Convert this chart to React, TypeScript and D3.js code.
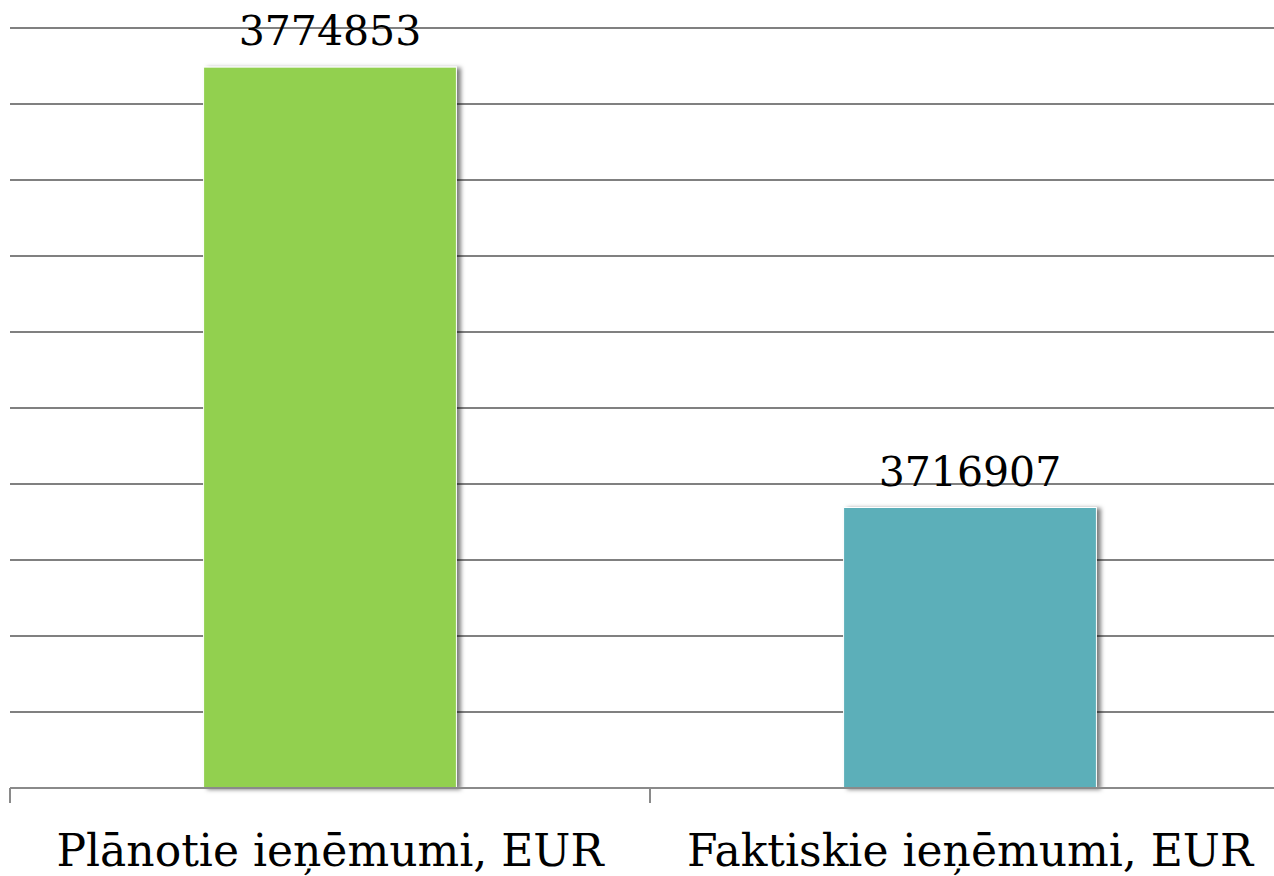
import React, { useEffect, useRef } from "react"
import * as d3 from "d3"

const categories = ["Plānotie ieņēmumi, EUR", "Faktiskie ieņēmumi, EUR"]
const values = [3774853, 3716907]
const barColors = ["#92D050", "#5BAFB9"]
const yDomain = [3680000, 3780000]
const yTickStep = 10000

const width = 1274
const height = 876

export default function App() {
    const ref = useRef<SVGSVGElement>(null)

    useEffect(() => {
        const svg = d3.select(ref.current)
        svg.selectAll("*").remove()

        const left = 10
        const right = 1290
        const top = 28
        const bottom = 788

        const xScale = d3
            .scaleBand<string>()
            .domain(categories)
            .range([left, right])
            .paddingInner(0.605)
            .paddingOuter(0.3025)

        const yScale = d3
            .scaleLinear()
            .domain(yDomain)
            .range([bottom, top])

        const defs = svg.append("defs")
        const filter = defs
            .append("filter")
            .attr("id", "barShadow")
            .attr("x", "-10%")
            .attr("y", "-10%")
            .attr("width", "130%")
            .attr("height", "130%")
        filter
            .append("feDropShadow")
            .attr("dx", 4)
            .attr("dy", 1)
            .attr("stdDeviation", 2)
            .attr("flood-color", "#000")
            .attr("flood-opacity", 0.5)

        // gridlines
        const ticks = d3.range(yDomain[0] + yTickStep, yDomain[1] + 1, yTickStep)
        svg
            .append("g")
            .attr("class", "grid")
            .selectAll("line")
            .data(ticks)
            .enter()
            .append("line")
            .attr("x1", left)
            .attr("x2", right)
            .attr("y1", d => yScale(d))
            .attr("y2", d => yScale(d))
            .attr("stroke", "#808080")
            .attr("stroke-width", 2)

        // bars
        svg
            .append("g")
            .attr("class", "bars")
            .selectAll("rect")
            .data(values)
            .enter()
            .append("rect")
            .attr("x", (d, i) => xScale(categories[i]) as number)
            .attr("width", xScale.bandwidth())
            .attr("y", d => yScale(d))
            .attr("height", d => bottom - yScale(d))
            .attr("fill", (d, i) => barColors[i])
            .attr("stroke", "#fff")
            .attr("stroke-width", 1)
            .attr("filter", "url(#barShadow)")

        // value labels
        svg
            .append("g")
            .attr("class", "labels")
            .selectAll("text")
            .data(values)
            .enter()
            .append("text")
            .attr("x", (d, i) => (xScale(categories[i]) as number) + xScale.bandwidth() / 2)
            .attr("y", d => yScale(d) - 22)
            .attr("text-anchor", "middle")
            .attr("font-family", "'DejaVu Serif', serif")
            .attr("font-size", 41)
            .attr("fill", "#000")
            .text(d => String(d))

        // category axis
        const axis = svg.append("g").attr("class", "axis")
        axis
            .append("line")
            .attr("x1", left)
            .attr("x2", right)
            .attr("y1", bottom)
            .attr("y2", bottom)
            .attr("stroke", "#8a8a8a")
            .attr("stroke-width", 2)

        const step = xScale.step()
        axis
            .selectAll("line.tick")
            .data(d3.range(categories.length + 1))
            .enter()
            .append("line")
            .attr("class", "tick")
            .attr("x1", i => left + i * step)
            .attr("x2", i => left + i * step)
            .attr("y1", bottom)
            .attr("y2", bottom + 15)
            .attr("stroke", "#8a8a8a")
            .attr("stroke-width", 2)

        axis
            .selectAll("text")
            .data(categories)
            .enter()
            .append("text")
            .attr("x", d => (xScale(d) as number) + xScale.bandwidth() / 2)
            .attr("y", 866)
            .attr("text-anchor", "middle")
            .attr("font-family", "'DejaVu Serif', serif")
            .attr("font-size", 44)
            .attr("fill", "#000")
            .text(d => d)
    }, [])

    return (
        <svg
            ref={ref}
            width={width}
            height={height}
            style={{ position: "absolute", left: 0, top: 0, background: "#fff" }}
        />
    )
}
